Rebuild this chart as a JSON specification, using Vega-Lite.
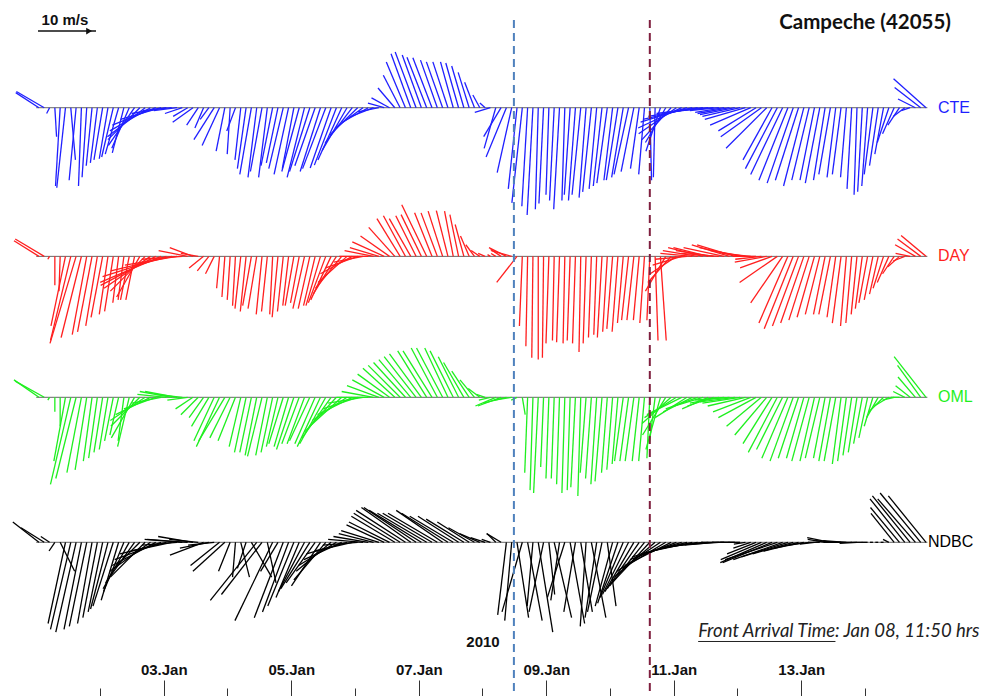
{
"$schema":"https://vega.github.io/schema/vega-lite/v6.json",
"width":985,"height":680,"autosize":"none","padding":{"left":0,"top":0,"right":0,"bottom":16},"background":"white",
"config":{"view":{"stroke":null},"axis":{"grid":false,"domain":false,"title":null}},
"resolve":{"scale":{"x":"shared","y":"shared"},"axis":{"x":"independent"}},
"layer":[
{
"data":{"values":[{"s":"CTE"},{"s":"DAY"},{"s":"OML"},{"s":"NDBC"}]},
"transform":[{"calculate":"datum.s=='CTE'?74.93:datum.s=='DAY'?49.3:datum.s=='OML'?25:0","as":"o"}],
"mark":{"type":"rule","color":"#666666","strokeWidth":1},
"encoding":{
"x":{"datum":0,"type":"quantitative","scale":{"domain":[-13.65,357.2],"nice":false,"zero":false},"axis":{"orient":"bottom","values":[24,72,120,168,216,264,312],"tickSize":8,"offset":8,"labels":false,"tickColor":"#333333","tickWidth":1}},
"x2":{"datum":335.5},
"y":{"field":"o","type":"quantitative","scale":{"domain":[-23.74,93.5],"nice":false,"zero":false},"axis":null}
}
},
{
"data":{"values":"s,h,u,v\nCTE,1,-4,2.6\nCTE,3,-4.8,2.8\nCTE,5,-0.5,-1\nCTE,7,0.3,-5\nCTE,9,-0.8,-13.5\nCTE,11,-1.5,-13.8\nCTE,13,0.8,-9\nCTE,15,-1.2,-12.5\nCTE,17,-0.5,-13.5\nCTE,19,-0.8,-12\nCTE,21,-1,-10\nCTE,23,-1.2,-9.5\nCTE,25,-1.5,-9\nCTE,27,-1.5,-8.8\nCTE,29,-2,-8.5\nCTE,31,-2.3,-8\nCTE,33,-2,-7.8\nCTE,35,-3,-7\nCTE,37,-4.5,-6.5\nCTE,39,-5.5,-5.5\nCTE,41,-6.5,-5\nCTE,43,-7,-4\nCTE,45,-7.5,-3\nCTE,47,-7,-2\nCTE,49,-6,-1\nCTE,51,-5,-0.5\nCTE,53,-4,-0.5\nCTE,55,-3,-1\nCTE,57,-2.5,-1.5\nCTE,59,-3.5,-2.5\nCTE,61,-2,-3\nCTE,63,-1.5,-3.5\nCTE,65,-1.5,-2\nCTE,67,-3.5,-5.5\nCTE,69,-3,-6.5\nCTE,71,-1.5,-7.5\nCTE,73,-0.5,-8\nCTE,75,-1.5,-4\nCTE,77,-1,-9\nCTE,79,-1.5,-10.5\nCTE,81,-2,-11.5\nCTE,83,-1.5,-12\nCTE,85,-2,-11\nCTE,87,-1.5,-12\nCTE,89,-2,-10\nCTE,91,-2,-9.5\nCTE,93,-2.5,-10.5\nCTE,95,-2.5,-11.5\nCTE,97,-2,-10.5\nCTE,99,-3,-11\nCTE,101,-3,-12\nCTE,103,-3.5,-11\nCTE,105,-3.5,-10\nCTE,107,-3.5,-11\nCTE,109,-4,-10.5\nCTE,111,-3.6,-10.4\nCTE,113,-3.8,-9.9\nCTE,115,-4.1,-9\nCTE,117,-4.3,-7.4\nCTE,119,-4.7,-6.1\nCTE,121,-4.8,-4.7\nCTE,123,-4.8,-3.5\nCTE,125,-4.5,-2.5\nCTE,127,-4.1,-1.6\nCTE,129,-3.6,-0.7\nCTE,131,-2.8,0.8\nCTE,133,-3.1,1.7\nCTE,135,-2.9,3.4\nCTE,137,-2.9,5.6\nCTE,139,-3.3,7.9\nCTE,141,-3.4,9.3\nCTE,143,-3.6,9.6\nCTE,145,-3.3,9.1\nCTE,147,-3.4,8.7\nCTE,149,-3.3,8.6\nCTE,151,-2.9,8.2\nCTE,153,-2.8,7.9\nCTE,155,-2.6,7.9\nCTE,157,-2.2,7.9\nCTE,159,-2.2,7.7\nCTE,161,-2.1,7.2\nCTE,163,-1.9,6.1\nCTE,165,-1.7,4.4\nCTE,167,-1.2,2.2\nCTE,169,-0.9,0.8\nCTE,171,-2.7,-0.8\nCTE,173,-2,-7\nCTE,175,-3,-5\nCTE,177,-3.5,-8.5\nCTE,179,-2.5,-11.2\nCTE,181,-1.5,-14\nCTE,183,-1.8,-16.4\nCTE,185,-1,-17\nCTE,187,-1,-18.5\nCTE,189,-0.5,-17.5\nCTE,191,-0.8,-16.5\nCTE,193,-0.5,-15\nCTE,195,-0.8,-16\nCTE,197,-1,-17.5\nCTE,199,-0.5,-16\nCTE,201,-1,-15\nCTE,203,-1.2,-16\nCTE,205,-1.5,-15\nCTE,207,-1.2,-15.5\nCTE,209,-1.5,-14.5\nCTE,211,-1.3,-14\nCTE,213,-1.5,-13.5\nCTE,215,-1.8,-13\nCTE,217,-1.5,-12.5\nCTE,219,-2,-12.5\nCTE,221,-2,-12\nCTE,223,-2.5,-11.5\nCTE,225,-2.2,-11\nCTE,227,-1.5,-10.5\nCTE,229,-1,-11.5\nCTE,231,0.3,-12.5\nCTE,233,-0.3,-12\nCTE,235,-2.5,-7.5\nCTE,237,-3.5,-6\nCTE,239,-5,-5.5\nCTE,241,-6.5,-4.5\nCTE,243,-7.5,-3.5\nCTE,245,-8,-2.5\nCTE,247,-8.5,-2\nCTE,249,-8.5,-1.5\nCTE,251,-8,-1\nCTE,253,-7,-0.8\nCTE,255,-6,-0.5\nCTE,257,-5,-0.5\nCTE,259,-5,-0.8\nCTE,261,-5.5,-1\nCTE,263,-6,-1.2\nCTE,265,-6.5,-1.5\nCTE,267,-7,-2\nCTE,269,-7,-3\nCTE,271,-6.5,-4\nCTE,273,-7,-5\nCTE,275,-7,-7\nCTE,277,-5,-9\nCTE,279,-5.5,-10.5\nCTE,281,-5.5,-11.5\nCTE,283,-5,-12.5\nCTE,285,-4.5,-13\nCTE,287,-4,-12.5\nCTE,289,-3.5,-13.5\nCTE,291,-3,-12.5\nCTE,293,-2.5,-12.5\nCTE,295,-2.5,-13\nCTE,297,-2,-12.5\nCTE,299,-2,-11.5\nCTE,301,-1.5,-12\nCTE,303,-1.5,-11.5\nCTE,305,-1,-12\nCTE,307,-0.8,-14\nCTE,309,-0.5,-15\nCTE,311,-0.8,-14.5\nCTE,313,-1,-13.5\nCTE,315,-1.5,-11.5\nCTE,317,-1.5,-10\nCTE,319,-1.5,-8\nCTE,321,-2,-6\nCTE,323,-2,-4.5\nCTE,325,-2,-3\nCTE,327,-2,-1.5\nCTE,329,-1.5,-0.5\nCTE,331,-3,1.5\nCTE,333,-4.5,3.5\nCTE,335,-5.6,5\nDAY,1,-4.3,2.7\nDAY,3,-5,3\nDAY,5,-0.3,-0.5\nDAY,7,0,-5\nDAY,9,-0.2,-6\nDAY,11,-2.5,-12\nDAY,13,-3.5,-14.5\nDAY,15,-4.5,-15\nDAY,17,-3.5,-14\nDAY,19,-2.5,-13.5\nDAY,21,-2.5,-13\nDAY,23,-2,-12\nDAY,25,-2,-10.5\nDAY,27,-1.5,-10\nDAY,29,-1.5,-9.5\nDAY,31,-1,-8\nDAY,33,-1,-7.5\nDAY,35,-1.5,-7.5\nDAY,37,-1.5,-7.5\nDAY,39,-4,-7\nDAY,41,-6,-6\nDAY,43,-8,-5.5\nDAY,45,-9.5,-5\nDAY,47,-10.5,-4.5\nDAY,49,-11,-3.5\nDAY,51,-10.5,-2.5\nDAY,53,-9,-1.5\nDAY,55,-7,-0.5\nDAY,57,-5,1\nDAY,59,-4,1.5\nDAY,61,-3,0.5\nDAY,63,-2.5,-2\nDAY,65,-2,-2.5\nDAY,67,-1.5,-3\nDAY,69,-0.5,-5.5\nDAY,71,-0.5,-7\nDAY,73,-0.5,-7.5\nDAY,75,-0.5,-8.5\nDAY,77,-1,-9\nDAY,79,-1,-9.5\nDAY,81,-1.5,-8.5\nDAY,83,-1.5,-9\nDAY,85,-1,-10\nDAY,87,-1,-9.5\nDAY,89,-0.5,-10\nDAY,91,-1,-10.5\nDAY,93,-1,-9.5\nDAY,95,-1,-8.5\nDAY,97,-1.5,-8.5\nDAY,99,-1.5,-8\nDAY,101,-2,-9\nDAY,103,-2,-9\nDAY,105,-2,-8.5\nDAY,107,-2.5,-8.5\nDAY,109,-3,-8\nDAY,111,-3.5,-7.5\nDAY,113,-4,-6.5\nDAY,115,-4.5,-5.5\nDAY,117,-5,-4.5\nDAY,119,-5.5,-3\nDAY,121,-5.5,-2\nDAY,123,-5,-1\nDAY,125,-5,0\nDAY,127,-5,1\nDAY,129,-5,1.5\nDAY,131,-5.5,2.5\nDAY,133,-5,3.5\nDAY,135,-4.5,5\nDAY,137,-4,6.5\nDAY,139,-3.8,7\nDAY,141,-3.7,6.5\nDAY,143,-3.5,7\nDAY,145,-3.5,7.2\nDAY,147,-4.3,8.9\nDAY,149,-3,7.5\nDAY,151,-2.8,7.5\nDAY,153,-2.5,7.8\nDAY,155,-2,7.9\nDAY,157,-1.5,7.8\nDAY,159,-1.5,7.2\nDAY,161,-1.5,5.5\nDAY,163,-1.5,3.5\nDAY,165,-1.5,2\nDAY,167,-1.5,1\nDAY,169,-1.2,0.5\nDAY,171,-0.5,0.3\nDAY,173,-0.8,0.5\nDAY,175,-1.8,1.2\nDAY,177,-3,1.5\nDAY,179,-3.5,1\nDAY,181,-3.5,-4.5\nDAY,183,-0.5,-12\nDAY,185,-0.3,-15.5\nDAY,187,-0.2,-17.5\nDAY,189,0,-17.8\nDAY,191,-0.2,-17.5\nDAY,193,-0.5,-15\nDAY,195,-0.3,-14.5\nDAY,197,-0.5,-14.8\nDAY,199,-0.3,-15\nDAY,201,-0.5,-14.5\nDAY,203,-0.5,-15\nDAY,205,-0.3,-16.5\nDAY,207,-0.5,-15\nDAY,209,-0.5,-14\nDAY,211,-0.5,-13.5\nDAY,213,-0.8,-14\nDAY,215,-0.8,-13\nDAY,217,-1,-12.5\nDAY,219,-1,-13\nDAY,221,-1,-11.5\nDAY,223,-1.2,-11\nDAY,225,-1.2,-11\nDAY,227,-1,-11\nDAY,229,-0.8,-11.5\nDAY,231,-0.5,-11\nDAY,233,0.5,-14.5\nDAY,235,1,-14.5\nDAY,237,-3.5,-6\nDAY,239,-4,-4.5\nDAY,241,-4.5,-3\nDAY,243,-5,-1.5\nDAY,245,-5.5,-0.5\nDAY,247,-5.5,0.5\nDAY,249,-6,1\nDAY,251,-6,1.5\nDAY,253,-6,1.5\nDAY,255,-6.5,1\nDAY,257,-6.5,0.5\nDAY,259,-7,1.5\nDAY,261,-6.5,2\nDAY,263,-6.5,2\nDAY,265,-7,1.5\nDAY,267,-6,1\nDAY,269,-5,0.5\nDAY,271,-4,0\nDAY,273,-4.5,-0.5\nDAY,275,-5.5,-1\nDAY,277,-5.5,-2\nDAY,279,-6.5,-4.5\nDAY,281,-5.5,-8\nDAY,283,-5,-11.5\nDAY,285,-5,-12.5\nDAY,287,-4.5,-12\nDAY,289,-4,-11.5\nDAY,291,-3.5,-11\nDAY,293,-3,-10.5\nDAY,295,-2.5,-10\nDAY,297,-2,-10\nDAY,299,-2,-10\nDAY,301,-1.5,-10.5\nDAY,303,-1.5,-11.5\nDAY,305,-1,-12\nDAY,307,-1,-11.5\nDAY,309,-1,-10\nDAY,311,-1.2,-9\nDAY,313,-1.5,-8\nDAY,315,-1.5,-7.5\nDAY,317,-1.5,-6.5\nDAY,319,-1.8,-5.5\nDAY,321,-2,-4.5\nDAY,323,-2,-3\nDAY,325,-2,-1.8\nDAY,327,-2,-0.8\nDAY,329,-2.5,0.5\nDAY,331,-3.5,2\nDAY,333,-4,3\nDAY,335,-4.3,3.6\nOML,1,-4.3,3\nOML,3,-5,2.8\nOML,5,-0.3,-0.5\nOML,7,0,-2.5\nOML,9,0,-5\nOML,11,-2,-11\nOML,13,-3.5,-15\nOML,15,-3.5,-14\nOML,17,-2.5,-13\nOML,19,-2,-12.5\nOML,21,-1.5,-11\nOML,23,-1.5,-10.5\nOML,25,-1.5,-9.5\nOML,27,-1.5,-9\nOML,29,-1.5,-7.5\nOML,31,-1.5,-6.5\nOML,33,-1,-7.5\nOML,35,-2,-8.5\nOML,37,-4,-7\nOML,39,-5,-5\nOML,41,-6,-4\nOML,43,-6,-3\nOML,45,-5.5,-2\nOML,47,-5,-1\nOML,49,-5,0.5\nOML,51,-5.5,1\nOML,53,-5.5,1\nOML,55,-4.5,0.5\nOML,57,-3.5,-0.5\nOML,59,-3,-2\nOML,61,-3,-3\nOML,63,-2.5,-3.5\nOML,65,-3,-5\nOML,67,-3.5,-7.5\nOML,69,-4,-8.5\nOML,71,-4.5,-7.5\nOML,73,-3.5,-7\nOML,75,-3,-7.5\nOML,77,-2,-8.5\nOML,79,-2,-9.5\nOML,81,-2,-9.5\nOML,83,-2,-10\nOML,85,-2.5,-10.2\nOML,87,-2,-10\nOML,89,-2,-9.5\nOML,91,-2,-8.5\nOML,93,-2.5,-8\nOML,95,-2.5,-8.5\nOML,97,-3,-9\nOML,99,-3,-8\nOML,101,-3,-8\nOML,103,-3.5,-7.5\nOML,105,-3.5,-8\nOML,107,-4,-8.5\nOML,109,-4.5,-8\nOML,111,-5,-7\nOML,113,-5.5,-6\nOML,115,-5.5,-5\nOML,117,-6,-4\nOML,119,-6,-3\nOML,121,-6,-2\nOML,123,-6,-1\nOML,125,-5.5,0\nOML,127,-5.5,1\nOML,129,-5.5,2\nOML,131,-5.5,3\nOML,133,-5.5,4\nOML,135,-5.5,5\nOML,137,-5.5,5.5\nOML,139,-5.5,6\nOML,141,-5.5,6.5\nOML,143,-5.5,7\nOML,145,-5.5,7.5\nOML,147,-5,8\nOML,149,-5,8\nOML,151,-4.5,8.5\nOML,153,-4.5,8.5\nOML,155,-4,8.5\nOML,157,-4,8\nOML,159,-3.5,7\nOML,161,-3.5,6\nOML,163,-3,4.5\nOML,165,-2.5,3\nOML,167,-2,1.5\nOML,169,-1.5,0.5\nOML,171,-2,-0.5\nOML,173,-3.5,-1.5\nOML,175,-4,-1.5\nOML,177,-4,-1\nOML,179,-3,-0.5\nOML,181,-1,-0.5\nOML,183,0.5,-3\nOML,185,-0.5,-13\nOML,187,-0.5,-16\nOML,189,-0.8,-16.5\nOML,191,-0.5,-12\nOML,193,-0.5,-14\nOML,195,-0.5,-14\nOML,197,-0.5,-15\nOML,199,-0.5,-16.5\nOML,201,-0.5,-16\nOML,203,-0.8,-15.5\nOML,205,-0.5,-17\nOML,207,-1,-13\nOML,209,-1,-14\nOML,211,-1,-15\nOML,213,-1.2,-14.5\nOML,215,-1,-13\nOML,217,-1,-12.5\nOML,219,-1,-11.5\nOML,221,-1.5,-11\nOML,223,-1.5,-11\nOML,225,-1.5,-11\nOML,227,-1.2,-11\nOML,229,-1,-11\nOML,231,-0.5,-10.5\nOML,233,-1,-8\nOML,235,-2.5,-9\nOML,237,-4,-6.5\nOML,239,-5,-4.5\nOML,241,-5.5,-3.5\nOML,243,-6,-3\nOML,245,-5.5,-3.5\nOML,247,-5,-2.5\nOML,249,-5.5,-2\nOML,251,-5,-1.5\nOML,253,-4.5,-2\nOML,255,-4.5,-1.5\nOML,257,-5,-1\nOML,259,-5,-0.5\nOML,261,-5.5,-0.5\nOML,263,-6,-0.8\nOML,265,-6.5,-1\nOML,267,-6.5,-1.5\nOML,269,-6.5,-2.5\nOML,271,-6.5,-3.5\nOML,273,-6,-5\nOML,275,-5.5,-6.5\nOML,277,-5,-8\nOML,279,-5,-9.5\nOML,281,-4.5,-9\nOML,283,-4.5,-10.5\nOML,285,-4,-11\nOML,287,-3.5,-10.5\nOML,289,-3,-10.5\nOML,291,-3,-11\nOML,293,-2.5,-11\nOML,295,-2.5,-10.5\nOML,297,-2,-10.5\nOML,299,-2,-11\nOML,301,-2,-11\nOML,303,-1.5,-11.5\nOML,305,-1.5,-11\nOML,307,-1.5,-10\nOML,309,-1.5,-9.5\nOML,311,-1.5,-8\nOML,313,-1.5,-7\nOML,315,-1.5,-5\nOML,317,-2,-3.5\nOML,319,-2.5,-2.5\nOML,321,-2.5,-1.5\nOML,323,-2,-0.5\nOML,325,-1.5,0\nOML,327,-2,1\nOML,329,-2.5,2\nOML,331,-3,3.5\nOML,333,-4,5.5\nOML,335,-5.5,7\nNDBC,1,-4.5,3.5\nNDBC,3,-4,2.5\nNDBC,5,-1.5,1\nNDBC,7,-1,-1.5\nNDBC,9,2.5,-5\nNDBC,11,-3,-14\nNDBC,13,-3.5,-15\nNDBC,15,-3.5,-15.5\nNDBC,17,-3,-15\nNDBC,19,-3,-14.5\nNDBC,21,-2.5,-14\nNDBC,23,-2.5,-13\nNDBC,25,-2.5,-12\nNDBC,27,-3,-11.5\nNDBC,29,-3.5,-11\nNDBC,31,-3,-10\nNDBC,33,-3.5,-8.5\nNDBC,35,-4.5,-8\nNDBC,37,-5,-7\nNDBC,39,-4.5,-4.5\nNDBC,41,-6,-6\nNDBC,43,-7,-5\nNDBC,45,-7.5,-4\nNDBC,47,-8,-3\nNDBC,49,-8,-2\nNDBC,51,-7,-1.5\nNDBC,53,-6,-0.5\nNDBC,55,-6.5,0.5\nNDBC,57,-7,0.5\nNDBC,59,-6,1\nNDBC,61,-5,0.5\nNDBC,63,-5.8,-2.2\nNDBC,65,-5,-1\nNDBC,67,-4.5,-0.5\nNDBC,69,-5,-4\nNDBC,71,-5.5,-5\nNDBC,73,-2,-5\nNDBC,75,-0.5,-6\nNDBC,77,1.5,-6\nNDBC,79,-1.5,-4.5\nNDBC,81,3.5,-6\nNDBC,83,-8,-10\nNDBC,85,-7,-9\nNDBC,87,1.5,-7\nNDBC,89,-6.5,-13.5\nNDBC,91,-3,-5\nNDBC,93,-5,-13\nNDBC,95,-4.5,-12\nNDBC,97,-4.5,-11\nNDBC,99,-4,-9.5\nNDBC,101,-4.5,-8.5\nNDBC,103,-5,-8\nNDBC,105,-5,-7\nNDBC,107,-5,-7.5\nNDBC,109,-5.5,-6.5\nNDBC,111,-6,-5\nNDBC,113,-6.5,-4\nNDBC,115,-6.5,-3\nNDBC,117,-7,-2\nNDBC,119,-6.5,-1.5\nNDBC,121,-6,-0.5\nNDBC,123,-6,0.5\nNDBC,125,-6,1\nNDBC,127,-6,1.5\nNDBC,129,-6.5,2\nNDBC,131,-6.5,3\nNDBC,133,-7,3.5\nNDBC,135,-7.5,4.5\nNDBC,137,-8,5\nNDBC,139,-8.5,5.5\nNDBC,141,-8.5,6\nNDBC,143,-9,6\nNDBC,145,-9,5.5\nNDBC,147,-8.5,5\nNDBC,149,-8.5,5\nNDBC,151,-8.5,5\nNDBC,153,-8,5.5\nNDBC,155,-8,5\nNDBC,157,-7.5,4.5\nNDBC,159,-7,4.5\nNDBC,161,-6.5,4\nNDBC,163,-5.5,3.5\nNDBC,165,-4.5,2.5\nNDBC,167,-3.5,1.5\nNDBC,169,-2.5,0.8\nNDBC,171,-1.5,0.5\nNDBC,173,-1.5,1.5\nNDBC,175,-2.5,1.5\nNDBC,177,-1.5,-12.5\nNDBC,179,-1.2,-13.5\nNDBC,181,2,-13\nNDBC,183,-3.5,-12\nNDBC,185,2.5,-13.5\nNDBC,187,-1,-11\nNDBC,189,2.5,-15.5\nNDBC,191,-2.5,-12\nNDBC,193,1,-9\nNDBC,195,3,-13\nNDBC,197,-1.5,-10\nNDBC,199,-3,-9.5\nNDBC,201,2.5,-14\nNDBC,203,-2,-12\nNDBC,205,2,-12\nNDBC,207,-1,-14.5\nNDBC,209,2.5,-13\nNDBC,211,-2,-13\nNDBC,213,-2.5,-12\nNDBC,215,1.5,-11\nNDBC,217,-3,-11\nNDBC,219,-3.5,-10.5\nNDBC,221,-4,-9.5\nNDBC,223,-4.5,-9\nNDBC,225,-5,-8.5\nNDBC,227,-5.5,-8\nNDBC,229,-6,-7.5\nNDBC,231,-6.5,-7\nNDBC,233,-7,-6\nNDBC,235,-7.5,-5\nNDBC,237,-7.5,-4.5\nNDBC,239,-8,-4\nNDBC,241,-8,-3\nNDBC,243,-8.5,-2.5\nNDBC,245,-8,-2\nNDBC,247,-7,-1.5\nNDBC,249,-6,-1\nNDBC,251,-6,-0.8\nNDBC,253,-5,-0.5\nNDBC,255,-5,-0.5\nNDBC,257,-4.5,-0.3\nNDBC,259,-4,0\nNDBC,261,-3,0\nNDBC,263,-2.5,0\nNDBC,265,-2,0\nNDBC,267,-2,-0.3\nNDBC,269,-3,-1\nNDBC,271,-5,-2\nNDBC,273,-7,-3\nNDBC,275,-8,-3.5\nNDBC,277,-8.5,-3.5\nNDBC,279,-9,-3\nNDBC,281,-8.5,-3\nNDBC,283,-8,-2.5\nNDBC,285,-7,-2\nNDBC,287,-6,-1.5\nNDBC,289,-5,-1\nNDBC,291,-3.5,-0.5\nNDBC,293,-2.5,-0.3\nNDBC,295,-2,0\nNDBC,297,-3,0.5\nNDBC,299,-4,0.8\nNDBC,301,-3.5,0.3\nNDBC,303,-3,0\nNDBC,305,-4,0.3\nNDBC,307,-4.5,0\nNDBC,309,-3,-0.2\nNDBC,311,-2,0\nNDBC,313,-1,0\nNDBC,315,-0.5,0\nNDBC,317,-0.5,0\nNDBC,319,-0.5,0\nNDBC,321,-1,0.5\nNDBC,323,-4,5\nNDBC,325,-5,6\nNDBC,327,-6,7.5\nNDBC,329,-6.5,8\nNDBC,331,-6.5,7.5\nNDBC,333,-7,8.5\nNDBC,335,-6.5,8","format":{"type":"csv","parse":{"h":"number","u":"number","v":"number"}}},
"transform":[
{"calculate":"datum.s=='CTE'?74.93:datum.s=='DAY'?49.3:datum.s=='OML'?25:0","as":"o"},
{"calculate":"datum.h+datum.u*2.1837","as":"xe"},
{"calculate":"datum.o+datum.v","as":"ye"}
],
"mark":{"type":"rule","strokeWidth":1.3},
"encoding":{
"x":{"field":"h","type":"quantitative","axis":{"orient":"bottom","values":[48,96,144,192,240,288],"tickSize":16,"tickColor":"#333333","tickWidth":1,"labelPadding":-27,"labelBaseline":"middle","labelFont":"Liberation Sans","labelFontSize":15,"labelFontWeight":"bold","labelColor":"#111111","labelOverlap":false,"labelFlush":false,"labelExpr":"(datum.value/24+1<10?'0':'')+format(datum.value/24+1,'d')+'.Jan'"}},
"x2":{"field":"xe"},
"y":{"field":"o","type":"quantitative","axis":null},
"y2":{"field":"ye"},
"color":{"field":"s","type":"nominal","scale":{"domain":["CTE","DAY","OML","NDBC"],"range":["#1f1fff","#ff1f1f","#1fef1f","#000000"]},"legend":null}
}
},
{
"data":{"values":[{"s":"CTE"},{"s":"DAY"},{"s":"OML"},{"s":"NDBC"}]},
"transform":[{"calculate":"datum.s=='CTE'?74.93:datum.s=='DAY'?49.3:datum.s=='OML'?25:0","as":"o"},{"calculate":"datum.s=='NDBC'?335.7:339.5","as":"lx"}],
"mark":{"type":"text","align":"left","baseline":"middle","font":"Liberation Sans","fontSize":16},
"encoding":{
"x":{"field":"lx","type":"quantitative","axis":null},
"y":{"field":"o","type":"quantitative","axis":null},
"text":{"field":"s"},
"color":{"field":"s","type":"nominal","legend":null}
}
},
{
"data":{"values":[{}]},
"mark":{"type":"rule","color":"#4f81bd","strokeWidth":2,"strokeDash":[8,5]},
"encoding":{"x":{"datum":179.83,"type":"quantitative","axis":null},"y":{"datum":90.05,"type":"quantitative","axis":null},"y2":{"datum":-26.5}}
},
{
"data":{"values":[{}]},
"mark":{"type":"rule","color":"#7f1f3f","strokeWidth":2,"strokeDash":[8,5]},
"encoding":{"x":{"datum":231,"type":"quantitative","axis":null},"y":{"datum":90.05,"type":"quantitative","axis":null},"y2":{"datum":-26.5}}
},
{
"data":{"values":[{}]},
"mark":{"type":"text","align":"right","baseline":"middle","font":"Lato","fontSize":20.5,"fontWeight":"bold","color":"#111111","text":"Campeche (42055)"},
"encoding":{"x":{"datum":344.4,"type":"quantitative","axis":null},"y":{"datum":89.53,"type":"quantitative","axis":null}}
},
{
"data":{"values":[{}]},
"mark":{"type":"text","align":"center","baseline":"middle","font":"Liberation Sans","fontSize":15,"fontWeight":"bold","color":"#111111","text":"2010"},
"encoding":{"x":{"datum":168.2,"type":"quantitative","axis":null},"y":{"datum":-17.19,"type":"quantitative","axis":null}}
},
{
"data":{"values":[{}]},
"mark":{"type":"text","align":"left","baseline":"middle","font":"Lato","fontSize":18.5,"fontStyle":"italic","color":"#222222","text":"Front Arrival Time: Jan 08, 11:50 hrs"},
"encoding":{"x":{"datum":249.2,"type":"quantitative","axis":null},"y":{"datum":-15.29,"type":"quantitative","axis":null}}
},
{
"data":{"values":[{}]},
"mark":{"type":"rule","color":"#222222","strokeWidth":1},
"encoding":{"x":{"datum":249.2,"type":"quantitative","axis":null},"x2":{"datum":300.9},"y":{"datum":-17.1,"type":"quantitative","axis":null}}
},
{
"data":{"values":[{}]},
"mark":{"type":"text","align":"center","baseline":"middle","font":"Liberation Sans","fontSize":15,"fontWeight":"bold","color":"#111111","text":"10 m/s"},
"encoding":{"x":{"datum":10.8,"type":"quantitative","axis":null},"y":{"datum":90.05,"type":"quantitative","axis":null}}
},
{
"data":{"values":[{}]},
"mark":{"type":"rule","color":"#111111","strokeWidth":1.5},
"encoding":{"x":{"datum":0.66,"type":"quantitative","axis":null},"x2":{"datum":22.5},"y":{"datum":88.15,"type":"quantitative","axis":null}}
},
{
"data":{"values":[{}]},
"mark":{"type":"point","shape":"triangle-right","filled":true,"color":"#111111","size":45,"opacity":1},
"encoding":{"x":{"datum":19.9,"type":"quantitative","axis":null},"y":{"datum":88.15,"type":"quantitative","axis":null}}
}
]
}
